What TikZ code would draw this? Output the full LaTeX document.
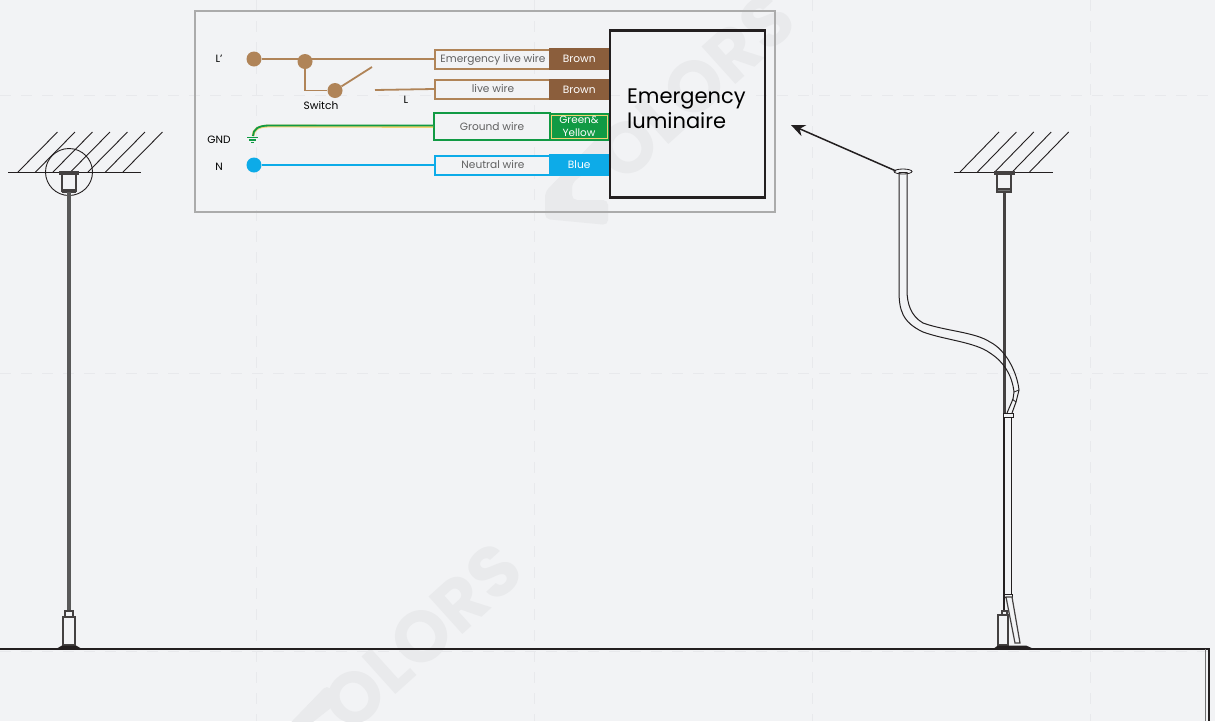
\documentclass[tikz,border=0pt]{standalone}
\usepackage{fontspec}
\setmainfont{Poppins}
\usetikzlibrary{positioning,arrows.meta}
\definecolor{bgcol}{HTML}{F2F3F5}
\definecolor{brownwire}{HTML}{B08458}
\definecolor{browntag}{HTML}{8B5E3C}
\definecolor{greenwire}{HTML}{119A44}
\definecolor{yellowwire}{HTML}{F2D272}
\definecolor{bluewire}{HTML}{0DABE8}
\definecolor{frameline}{HTML}{ABABAB}
\definecolor{inkline}{HTML}{231F20}
\definecolor{gridline}{HTML}{E8E9EC}
\definecolor{markcol}{HTML}{E9EAEC}
\tikzset{
  terminal/.style={circle,fill=#1,inner sep=0pt,minimum size=15pt},
  joint/.style={circle,fill=brownwire,inner sep=0pt,minimum size=15pt},
  wirebox/.style={draw=#1,line width=2pt,fill=bgcol,text=black!62,font=\fontsize{10.6}{11}\selectfont,
    text height=7.4pt,text depth=0pt,minimum width=116pt,minimum height=19pt,inner sep=0pt,anchor=west},
  colortag/.style={fill=#1,text=white,font=\fontsize{10.6}{11}\selectfont,
    minimum width=60pt,minimum height=21.5pt,inner sep=0pt,anchor=west},
  sidelabel/.style={text=black,font=\fontsize{10.6}{11}\selectfont,text height=7.4pt,text depth=0pt,inner sep=0pt},
  wire/.style={draw=#1,line width=1.8pt},
  hatch/.style={draw=inkline,line width=0.9pt},
  fitting/.style={draw=inkline!85,line width=1.2pt,fill=bgcol},
  tubeline/.style={draw=inkline,line width=1pt},
  gridrule/.style={draw=gridline,line width=0.8pt,dash pattern=on 11pt off 10pt},
  watermark/.style={text=markcol,font=\fontsize{72}{72}\selectfont\bfseries,rotate=42,inner sep=0pt},
}
\begin{document}
\begin{tikzpicture}[x=1pt,y=-1pt,>=stealth]
\useasboundingbox[fill=bgcol] (0,0) rectangle (1215,721);

% the background grid
\foreach \gx in {256,534,812,1090}
  \draw[gridrule] (\gx,0) -- (\gx,721);
\foreach \gy in {95,373,651}
  \draw[gridrule] (0,\gy) -- (1215,\gy);

% the watermarks
\node[watermark] (markone) at (422,637) {OLORS};
\node[watermark] (marktwo) at (695,87) {OLORS};
\foreach \sx/\sy in {0/0,-273/550}
  \fill[markcol,rounded corners=5pt,shift={(\sx,\sy)}] (545,219) -- (545,192) -- (600,135) -- (614,150)
    -- (572,183) -- (572,200) -- (608,200) -- (608,225) -- cycle;

% the frame of the wiring diagram
\draw[draw=frameline,line width=1.6pt] (195,11) rectangle (775,212);

% the luminaire
\node[draw=inkline,line width=2.2pt,minimum width=155pt,minimum height=167pt,inner sep=0pt,
  anchor=north west] (lum) at (608.5,29.3) {};
\node[anchor=west,align=left,inner sep=0pt,font=\fontsize{21}{25}\selectfont,text=black] (lumtext) at (627,108.5)
  {Emergency\\luminaire};

% the wire boxes with their colour tags
\node[wirebox=brownwire] (boxa) at (434,59) {Emergency live wire};
\node[wirebox=brownwire] (boxb) at (434,89) {live wire};
\node[wirebox=greenwire,minimum height=27pt] (boxc) at (433,126.5) {Ground wire};
\node[wirebox=bluewire] (boxd) at (434,165) {Neutral wire};
\node[colortag=browntag] (taga) at (549,59) {Brown};
\node[colortag=browntag] (tagb) at (549,89.5) {Brown};
\node[colortag=greenwire,minimum width=60pt,minimum height=28pt] (tagback) at (549,126.5) {};
\node[colortag=greenwire,draw=yellowwire,line width=0.9pt,minimum width=56pt,minimum height=23pt,
  align=center,font=\fontsize{10.4}{12.5}\selectfont] (tagc) at (550.5,126.5) {Green\&\\Yellow};
\node[colortag=bluewire] (tagd) at (549,165) {Blue};

% the terminals
\node[terminal=brownwire] (lprime) at (254,59) {};
\node[joint] (jointa) at (305,61.5) {};
\node[joint] (jointb) at (335,90.5) {};
\node[terminal=bluewire] (neutral) at (254,165) {};
\coordinate (swtip) at (372,67);
\coordinate (swend) at (375,90);
\coordinate (gndtop) at (253,136);
\coordinate (gndbend) at (269,126);

% the wires
\draw[wire=brownwire] (lprime) -- (boxa.west);
\draw[wire=brownwire] (jointa) |- (jointb);
\draw[wire=brownwire] (jointb) -- (swtip);
\draw[wire=brownwire] (swend) -- (boxb.west);
\draw[draw=yellowwire,line width=2.8pt] (gndtop) .. controls (253,130) and (258,126) .. (gndbend) -- (boxc.west);
\draw[wire=greenwire] (gndtop) .. controls (253,129.5) and (258,125.5) .. (269,125.5) -- (433,125.5);
\draw[wire=bluewire] (neutral) -- (boxd.west);
\draw[draw=greenwire,line width=1.6pt] (247,137.5) -- (258,137.5) (249,140) -- (256,140) (251,142.5) -- (254,142.5);

% the labels
\node[sidelabel] (lplabel) at (219,59) {L'};
\node[sidelabel] (gndlabel) at (219,139.5) {GND};
\node[sidelabel] (nlabel) at (219,167) {N};
\node[sidelabel] (swlabel) at (321,106) {Switch};
\node[sidelabel] (llabel) at (406,100) {L};

% the arrow to the diagram
\coordinate (arrowtip) at (791,125);
\coordinate (arrowtail) at (896,171);
\draw[-{Stealth[length=14pt,width=12pt]},draw=inkline,fill=inkline,line width=1.5pt] (arrowtail) -- (arrowtip);

% the floor
\draw[draw=inkline,line width=1.4pt] (0,649) -- (1209,649) -- (1209,721);
\draw[draw=black!55,line width=1pt] (1205,649) -- (1205,721);

% the left hanger
\foreach \hx in {0,1,...,6}
  \draw[hatch] (18+\hx*17.5,172) -- (57.5+\hx*17.5,132);
\draw[hatch] (8,172) -- (141,172);
\draw[hatch] (92.5,172) arc[start angle=0,end angle=360,radius=23.5];
\draw[fitting] (60,172) rectangle (78,174);
\draw[fitting] (62,174) rectangle (76,191);
\draw[fitting,fill=black!55] (62.5,190) rectangle (75.5,192);
\draw[draw=black!65,line width=3.2pt] (69,192) -- (69,611);
\draw[fitting] (65,611) rectangle (73,617);
\draw[fitting] (63,617) rectangle (75,645);
\fill[inkline] (56,649) -- (62,645.5) -- (76,645.5) -- (82,649) -- cycle;

% the right hanger
\foreach \hx in {0,1,...,4}
  \draw[hatch] (960+\hx*17.4,172) -- (999+\hx*17.4,132);
\draw[hatch] (954,172) -- (1053,172);
\draw[fitting,fill=black!15] (995,172) rectangle (1014,174);
\draw[fitting] (997,174) rectangle (1011,191);
\draw[fitting,fill=black!55] (997,189) rectangle (1011,192);
\draw[draw=inkline!85,line width=3pt] (1004.8,192) -- (1004.8,414);

% the flexible tube
\draw[tubeline] (899,172) -- (899,290)
  .. controls (899,310) and (902,322) .. (923,332)
  .. controls (945,340) and (975,342) .. (990,353)
  .. controls (1004,362) and (1012,375) .. (1014,392)
  -- (1013,399) -- (1007,413);
\draw[tubeline] (907,172) -- (907,290)
  .. controls (907,304) and (911,316) .. (923,323)
  .. controls (945,331) and (975,332) .. (990,342)
  .. controls (1006,350) and (1017,372) .. (1019,390)
  -- (1016,402) -- (1012,413);
\draw[draw=inkline,line width=0.8pt] (1014,392) -- (1019,390);
\draw[draw=inkline,line width=0.8pt] (1012,399) -- (1016,402);
\draw[draw=inkline,line width=0.8pt] (903,171.5) ellipse[x radius=9pt,y radius=2.5pt];
\draw[tubeline] (899,172) -- (907,172);
\draw[draw=inkline,line width=0.8pt] (1003,413) rectangle (1013,417);

% the lower tube and the base
\draw[draw=inkline,line width=1.4pt] (1004,417) -- (1004,611) (1011.5,417) -- (1011.5,595);
\draw[draw=inkline,line width=0.8pt] (1003,594) rectangle (1012.5,597);
\draw[fitting] (1006,597) -- (1012,597) -- (1020,643) -- (1015,643) -- cycle;
\draw[fitting] (1002,611) rectangle (1007,615);
\draw[fitting] (998,615) rectangle (1008,645);
\fill[inkline] (993,649) -- (998,645.5) -- (1026,645.5) -- (1034,649) -- cycle;
\end{tikzpicture}
\end{document}
